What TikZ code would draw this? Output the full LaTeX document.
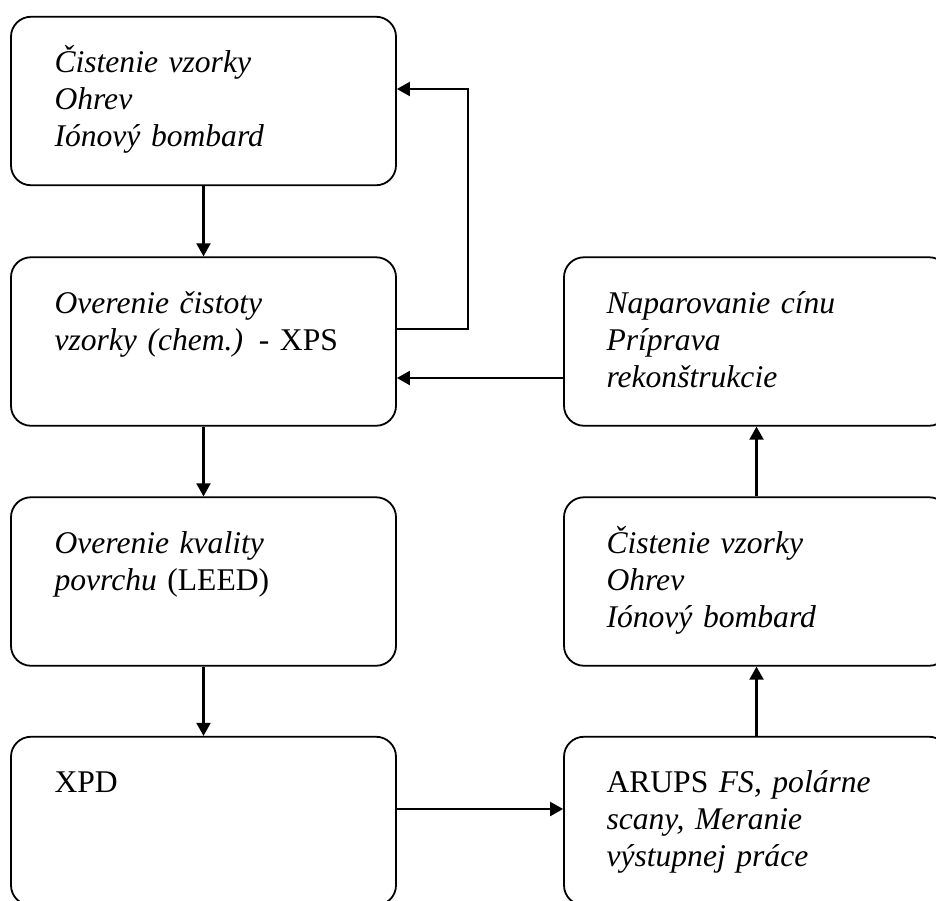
\documentclass[tikz,border=0pt]{standalone}
\usepackage{fontspec}
\setmainfont{Liberation Serif}
\usetikzlibrary{arrows.meta}

\tikzset{
  stepbox/.style={draw, line width=0.9pt, rounded corners=10pt,
    minimum width=192.5pt, minimum height=84.25pt, inner sep=0pt},
  boxtext/.style={anchor=base west, text width=175pt, inner sep=0pt,
    align=left, font=\fontsize{15.8}{18.5}\selectfont\itshape},
  flow/.style={line width=1.05pt, -{Triangle[length=6.5pt,width=7pt]}}
}

\begin{document}
\begin{tikzpicture}[x=0.5pt,y=-0.5pt]
            \useasboundingbox (0,0) rectangle (936,900);
            \clip (0,0) rectangle (936,900);
            % boxes, left column
            \node [stepbox] (clean)   at (203.5,101)   {};
            \node [stepbox] (verify)  at (203.5,341.5) {};
            \node [stepbox] (quality) at (203.5,581.5) {};
            \node [stepbox] (xpd)     at (203.5,821)   {};
            % boxes, right column
            \node [stepbox] (prep)    at (756.5,341.5) {};
            \node [stepbox] (cleanb)  at (756.5,581.5) {};
            \node [stepbox] (arups)   at (756.5,821)   {};

            % texts
            \node [boxtext] (clean-t)   at ([shift={(44,57)}]clean.north west)   {Čistenie vzorky\\Ohrev\\Iónový bombard};
            \node [boxtext] (verify-t)  at ([shift={(44,57)}]verify.north west)  {Overenie čistoty\\vzorky (chem.) \textup{- XPS}};
            \node [boxtext] (quality-t) at ([shift={(44,57)}]quality.north west) {Overenie kvality\\povrchu \textup{(LEED)}};
            \node [boxtext] (xpd-t)     at ([shift={(44,57)}]xpd.north west)     {\textup{XPD}};
            \node [boxtext] (prep-t)    at ([shift={(43,57)}]prep.north west)    {Naparovanie cínu\\Príprava\\rekonštrukcie};
            \node [boxtext] (cleanb-t)  at ([shift={(43,57)}]cleanb.north west)  {Čistenie vzorky\\Ohrev\\Iónový bombard};
            \node [boxtext] (arups-t)   at ([shift={(43,57)}]arups.north west)   {\textup{ARUPS} FS, polárne\\scany, Meranie\\výstupnej práce};

            % arrows
            \draw [flow] (clean) -- (verify);
            \draw [flow] (verify) -- (quality);
            \draw [flow] (quality) -- (xpd);
            \draw [flow] ([yshift=6pt]xpd.east) -- ([yshift=6pt]arups.west);
            \draw [flow] (arups) -- (cleanb);
            \draw [flow] (cleanb) -- (prep);
            \draw [flow] ([yshift=-18.25pt]prep.west) -- ([yshift=-18.25pt]verify.east);
            % loop back
            \coordinate (loop) at (468,89);
            \draw [flow] ([yshift=6.25pt]verify.east) -| (loop) -- (loop -| clean.east);
        \end{tikzpicture}
\end{document}
